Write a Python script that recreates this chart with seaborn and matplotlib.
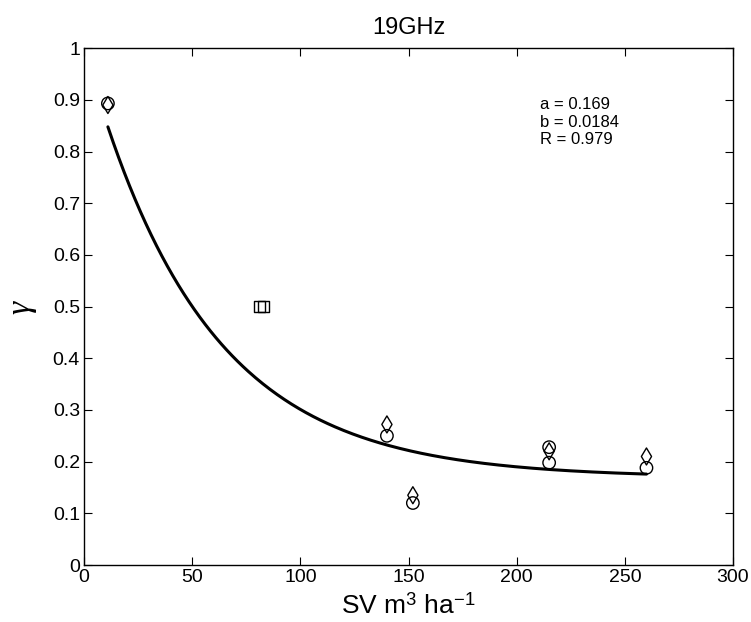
import numpy as np
import pandas as pd
import matplotlib
matplotlib.use("Agg")
import matplotlib.pyplot as plt
import seaborn as sns

# Measured points (stem volume vs. transmissivity)
circle_sv = [11, 140, 152, 215, 215, 260]
circle_gamma = [0.893, 0.250, 0.120, 0.228, 0.198, 0.188]
diamond_sv = [11, 140, 152, 215, 260]
diamond_gamma = [0.890, 0.272, 0.135, 0.220, 0.210]
square_sv = [81, 83]
square_gamma = [0.500, 0.500]

# Fitted model parameters
fit_a = 0.169
fit_b = 0.0184
fit_r = 0.979
fit_range = [11, 260]

x_ticks = [0, 50, 100, 150, 200, 250, 300]
y_ticks = [0, 0.1, 0.2, 0.3, 0.4, 0.5, 0.6, 0.7, 0.8, 0.9, 1]
y_ticklabels = ["0", "0.1", "0.2", "0.3", "0.4", "0.5", "0.6", "0.7", "0.8", "0.9", "1"]

sns.set_theme(style="ticks")
plt.rcParams["font.family"] = ["Liberation Sans", "DejaVu Sans"]
plt.rcParams["mathtext.fontset"] = "custom"
plt.rcParams["mathtext.rm"] = "Liberation Sans"
plt.rcParams["mathtext.it"] = "Liberation Serif:italic"
plt.rcParams["xtick.direction"] = "in"
plt.rcParams["ytick.direction"] = "in"
plt.rcParams["text.color"] = "black"
plt.rcParams["axes.labelcolor"] = "black"
plt.rcParams["xtick.color"] = "black"
plt.rcParams["ytick.color"] = "black"

fig = plt.figure(figsize=(7.51, 6.22), dpi=100)
ax = fig.add_axes([0.112, 0.0916, 0.864, 0.831])

sv_fit = np.linspace(fit_range[0], fit_range[1], 300)
gamma_fit = fit_a + (1 - fit_a) * np.exp(-fit_b * sv_fit)
sns.lineplot(x=sv_fit, y=gamma_fit, ax=ax, color="black", linewidth=2.2)

sns.scatterplot(x=circle_sv, y=circle_gamma, ax=ax, marker="o", s=80,
                facecolor="none", edgecolor="black", linewidth=1.0)
sns.scatterplot(x=diamond_sv, y=diamond_gamma, ax=ax, marker="d", s=75,
                facecolor="none", edgecolor="black", linewidth=1.0)
sns.scatterplot(x=square_sv, y=square_gamma, ax=ax, marker="s", s=65,
                facecolor="none", edgecolor="black", linewidth=1.0)

ax.set_xlim(0, 300)
ax.set_ylim(0, 1)
ax.set_xticks(x_ticks)
ax.set_yticks(y_ticks)
ax.set_yticklabels(y_ticklabels)
ax.tick_params(labelsize=14, length=6, width=0.8, color="black",
               top=True, right=True, pad=3)
for side in ax.spines.values():
    side.set_linewidth(1.0)
    side.set_color("black")

ax.set_xlabel(r"SV m$^\mathregular{3}$ ha$^\mathregular{-1}$", fontsize=19, labelpad=5)
ax.set_ylabel(r"$\gamma$", fontsize=24, labelpad=10)
ax.set_title("19GHz", fontsize=17, pad=10)

ax.text(0.703, 0.905, f"a = {fit_a}\nb = {fit_b}\nR = {fit_r}",
        transform=ax.transAxes, fontsize=12, va="top", ha="left",
        linespacing=1.2)

fig.savefig("out.png", dpi=100)
